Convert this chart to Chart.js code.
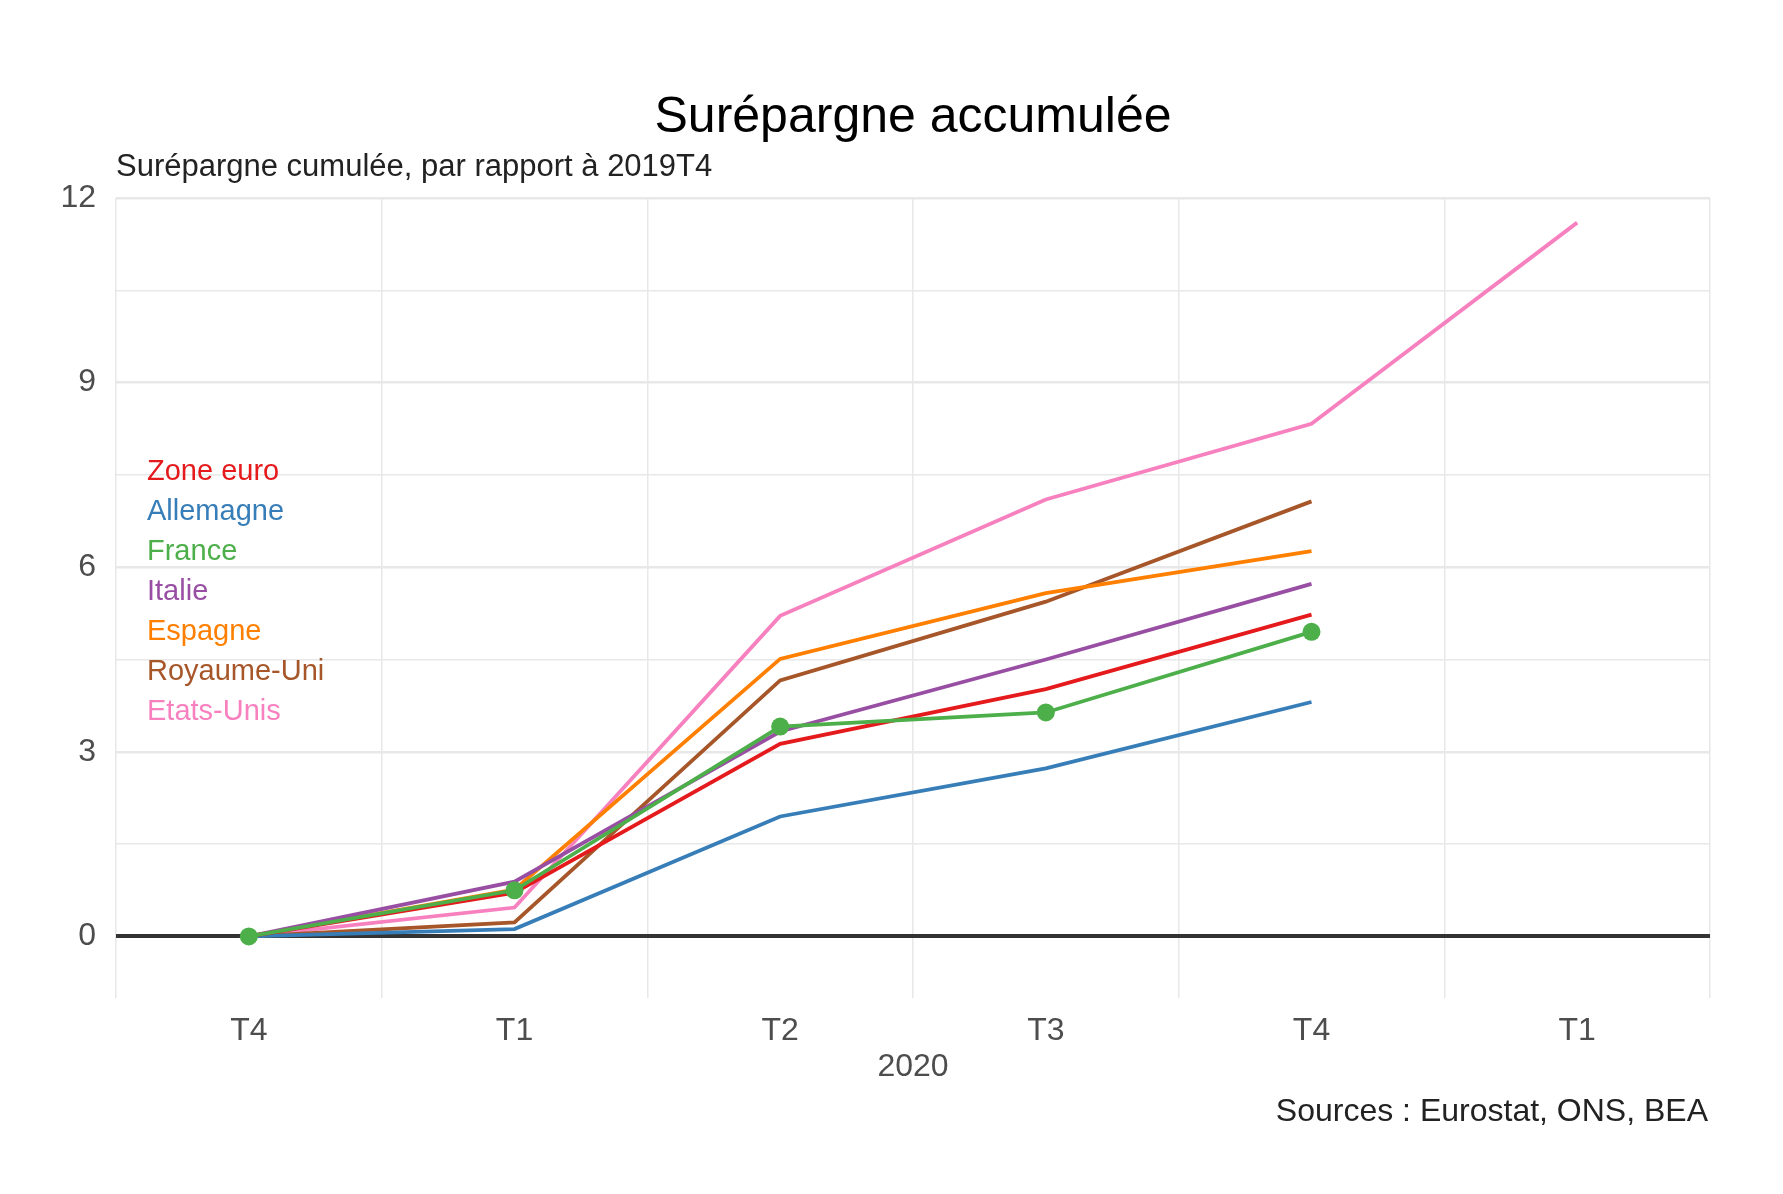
<!DOCTYPE html>
<html>
<head>
<meta charset="utf-8">
<script src="https://cdn.jsdelivr.net/npm/chart.js@4.4.1/dist/chart.umd.min.js"></script>
<style>
  body { margin: 0; background: #fff; }
  #wrap { width: 1783px; height: 1194px; }
</style>
</head>
<body>
<div id="wrap"><canvas id="myChart"></canvas></div>
<script>
// quarters 2019T4 -> 2021T1
var quarters = ["T4", "T1", "T2", "T3", "T4", "T1"];
var yTicks = [0, 1.5, 3, 4.5, 6, 7.5, 9, 10.5, 12];

var zoneEuro    = [0, 0.71, 3.13, 4.02, 5.23];
var allemagne   = [0, 0.12, 1.95, 2.73, 3.81];
var france      = [0, 0.75, 3.41, 3.64, 4.95];
var italie      = [0, 0.89, 3.33, 4.50, 5.73];
var espagne     = [0, 0.76, 4.51, 5.58, 6.26];
var royaumeUni  = [0, 0.23, 4.16, 5.44, 7.07];
var etatsUnis   = [0, 0.47, 5.21, 7.10, 8.33, 11.60];

var names  = ["Zone euro", "Allemagne", "France", "Italie", "Espagne", "Royaume-Uni", "Etats-Unis"];
var colors = ["#E41A1C", "#377EB8", "#4DAF4A", "#984EA3", "#FF7F00", "#A65628", "#F781BF"];
var series = [zoneEuro, allemagne, france, italie, espagne, royaumeUni, etatsUnis];

var FONT = "'Liberation Sans', Arial, sans-serif";

// titles, legend text and source note
var textPlugin = {
  id: "texts",
  afterDraw: function (chart) {
    var c = chart.ctx, a = chart.chartArea;
    c.save();
    c.textBaseline = "alphabetic";
    c.fillStyle = "#000";
    c.font = "50px " + FONT;
    c.textAlign = "center";
    c.fillText("Surépargne accumulée", (a.left + a.right) / 2, 132);
    c.fillStyle = "#222";
    c.font = "31px " + FONT;
    c.textAlign = "left";
    c.fillText("Surépargne cumulée, par rapport à 2019T4", a.left, 176);
    c.fillStyle = "#4d4d4d";
    c.font = "32px " + FONT;
    c.textAlign = "center";
    c.fillText("2020", (a.left + a.right) / 2, 1076);
    c.fillStyle = "#222";
    c.textAlign = "right";
    c.fillText("Sources : Eurostat, ONS, BEA", a.right - 2, 1121);
    c.font = "29px " + FONT;
    c.textAlign = "left";
    for (var i = 0; i < names.length; i++) {
      c.fillStyle = colors[i];
      c.fillText(names[i], 147, 480 + i * 40);
    }
    c.restore();
  }
};

var datasets = series.map(function (d, i) {
  var isFr = names[i] === "France";
  return {
    label: names[i],
    data: d,
    borderColor: colors[i],
    backgroundColor: colors[i],
    borderWidth: 3.8,
    pointRadius: isFr ? 9 : 0,
    pointHoverRadius: isFr ? 9 : 0,
    pointBorderWidth: 0,
    fill: false,
    tension: 0,
    order: isFr ? 0 : (i === 0 ? 1 : 2)
  };
});

var ctx = document.getElementById("myChart");
var myChart = new Chart(ctx, {
  type: "line",
  data: { labels: quarters, datasets: datasets },
  plugins: [textPlugin],
  options: {
    responsive: true,
    maintainAspectRatio: false,
    animation: false,
    layout: { padding: { top: 198, right: 73, bottom: 0, left: 0 } },
    plugins: { legend: { display: false }, tooltip: { enabled: false } },
    scales: {
      x: {
        offset: true,
        border: { display: false },
        grid: { offset: true, color: "#e8e8e8", lineWidth: 1.5, drawTicks: false },
        ticks: { color: "#4d4d4d", font: { size: 32, family: FONT }, padding: 14, maxRotation: 0, autoSkip: false },
        afterFit: function (s) { s.height = 196; }
      },
      y: {
        min: -1,
        max: 12,
        border: { display: false },
        afterBuildTicks: function (s) { s.ticks = yTicks.map(function (v) { return { value: v }; }); },
        afterFit: function (s) { s.width = 116; },
        grid: {
          drawTicks: false,
          color: function (c) { return c.tick && c.tick.value === 0 ? "#333333" : "#e8e8e8"; },
          lineWidth: function (c) {
            if (!c.tick) return 1;
            if (c.tick.value === 0) return 4;
            return c.tick.value % 3 === 0 ? 2.5 : 1.4;
          }
        },
        ticks: {
          color: "#4d4d4d",
          font: { size: 32, family: FONT },
          padding: 20,
          callback: function (v) { return v % 3 === 0 ? v : ""; }
        }
      }
    }
  }
});
</script>
</body>
</html>
